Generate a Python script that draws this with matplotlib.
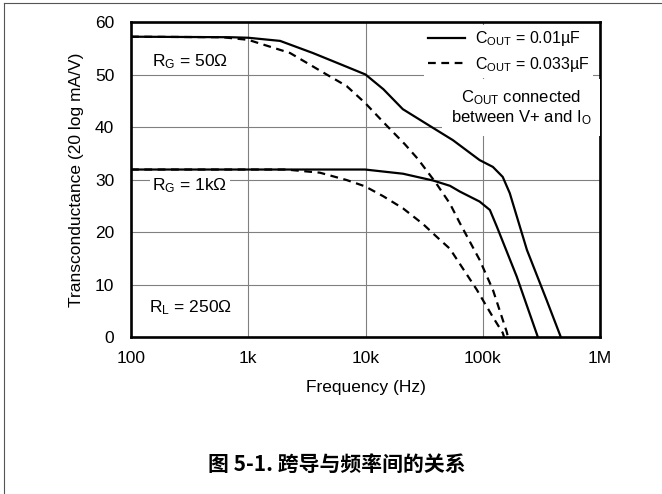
import matplotlib
matplotlib.use("Agg")
import matplotlib.pyplot as plt
from matplotlib.lines import Line2D

plt.rcParams['font.family'] = ['Liberation Sans', 'DejaVu Sans']
plt.rcParams['mathtext.fontset'] = 'custom'
plt.rcParams['mathtext.rm'] = 'Liberation Sans'
plt.rcParams['mathtext.it'] = 'Liberation Sans:italic'
plt.rcParams['mathtext.bf'] = 'Liberation Sans:bold'

# ---- data (frequency in Hz, transconductance in 20 log mA/V) ----
f_50_c01 = [100, 700, 1000, 1870, 3550, 6200, 10000, 14200, 20800, 35400,
            55600, 94000, 122000, 148000, 170000, 238000, 351000, 463000]
g_50_c01 = [57.2, 57.1, 57.0, 56.4, 54.1, 51.9, 50.0, 47.2, 43.4, 40.2,
            37.5, 33.7, 32.4, 30.5, 27.4, 16.6, 7.0, 0.0]

f_50_c033 = [100, 600, 1000, 2270, 4660, 6900, 9900, 15100, 21700, 28000,
             40000, 52500, 63800, 94000, 122000, 160000, 164000]
g_50_c033 = [57.2, 57.1, 56.6, 54.1, 50.0, 47.8, 44.6, 40.3, 36.7, 33.9,
             29.3, 25.4, 21.7, 14.7, 9.0, 1.0, 0.0]

f_1k_c01 = [100, 3000, 9900, 20900, 37800, 52500, 63800, 94000, 115000,
            132000, 195000, 295000]
g_1k_c01 = [31.9, 31.9, 31.9, 31.1, 29.8, 28.8, 27.7, 25.8, 24.2,
            21.0, 11.5, 0.0]

f_1k_c033 = [100, 2100, 4080, 6900, 9900, 14200, 20900, 31000, 40400, 52500,
             89000, 122000, 148000, 152000]
g_1k_c033 = [31.9, 31.9, 31.3, 29.9, 28.7, 26.8, 24.5, 21.5, 19.1, 16.8,
             9.0, 3.8, 0.8, 0.0]

x_ticks = [100, 1e3, 1e4, 1e5, 1e6]
x_ticklabels = ['100', '1k', '10k', '100k', '1M']
y_ticks = [0, 10, 20, 30, 40, 50, 60]

FS = 12.5
FS_LEG = 11.5
W, H = 662, 494
fig = plt.figure(figsize=(W / 100, H / 100), dpi=100)
ax = fig.add_axes([131 / W, 1 - 337 / H, (600 - 131) / W, (337 - 22) / H])

lw = 1.6
dash = (0, (3.5, 2.5))
for f, g, ls in [(f_50_c01, g_50_c01, '-'), (f_1k_c01, g_1k_c01, '-'),
                 (f_50_c033, g_50_c033, dash), (f_1k_c033, g_1k_c033, dash)]:
    ax.plot(f, g, color='black', lw=lw, ls=ls, zorder=4,
            solid_joinstyle='round', dash_joinstyle='round')

ax.set_xscale('log')
ax.set_xlim(100, 1e6)
ax.set_ylim(0, 60)
ax.set_xticks(x_ticks)
ax.set_xticklabels(x_ticklabels)
ax.xaxis.set_minor_locator(matplotlib.ticker.NullLocator())
ax.set_yticks(y_ticks)
ax.tick_params(axis='both', length=0, labelsize=FS)
ax.tick_params(axis='x', pad=10)
ax.tick_params(axis='y', pad=12)
ax.grid(True, color='#808080', lw=0.8, zorder=1)
ax.set_axisbelow(True)
for s in ax.spines.values():
    s.set_linewidth(1.9)

ax.set_xlabel('Frequency (Hz)', fontsize=FS, labelpad=10)
ax.set_ylabel('Transconductance (20 log mA/V)', fontsize=FS, labelpad=8)

box = dict(facecolor='white', edgecolor='none', pad=2)
ax.text(318, 52.4, r'R$_\mathregular{G}$ = 50Ω', fontsize=FS, ha='center', va='center', bbox=box, zorder=3)
ax.text(318, 28.8, r'R$_\mathregular{G}$ = 1kΩ', fontsize=FS, ha='center', va='center', bbox=box, zorder=3)
ax.text(324, 5.6, r'R$_\mathregular{L}$ = 250Ω', fontsize=FS, ha='center', va='center', bbox=box, zorder=3)

handles = [Line2D([], [], color='black', lw=lw),
           Line2D([], [], color='black', lw=lw, ls=dash)]
leg = ax.legend(handles, [r'C$_\mathregular{OUT}$ = 0.01µF', r'C$_\mathregular{OUT}$ = 0.033µF'],
                loc='upper right', bbox_to_anchor=(0.985, 0.99), fontsize=FS_LEG,
                frameon=True, fancybox=False, framealpha=1, edgecolor='none',
                handlelength=2.3, handletextpad=0.6, labelspacing=0.4,
                borderpad=0.25, borderaxespad=0)
leg.set_zorder(3)
ax.text(212000, 43.7, 'C$_\\mathregular{OUT}$ connected\nbetween V+ and I$_\\mathregular{O}$',
        fontsize=FS_LEG + 0.5, ha='center', va='center', linespacing=1.15,
        bbox=dict(facecolor='white', edgecolor='none', pad=6), zorder=3)

fig.text(337 / W, 1 - 464 / H, '图 5-1. 跨导与频率间的关系', ha='center', va='center',
         fontsize=15, fontweight='bold', family=['Noto Sans CJK SC', 'DejaVu Sans'])

# page border (left and top)
fig.add_artist(Line2D([3.5 / W, 3.5 / W], [0, 1 - 3.5 / H], color='#555555', lw=0.8))
fig.add_artist(Line2D([3.5 / W, 1], [1 - 3.5 / H, 1 - 3.5 / H], color='#555555', lw=0.8))

fig.savefig('out.png', dpi=100)
